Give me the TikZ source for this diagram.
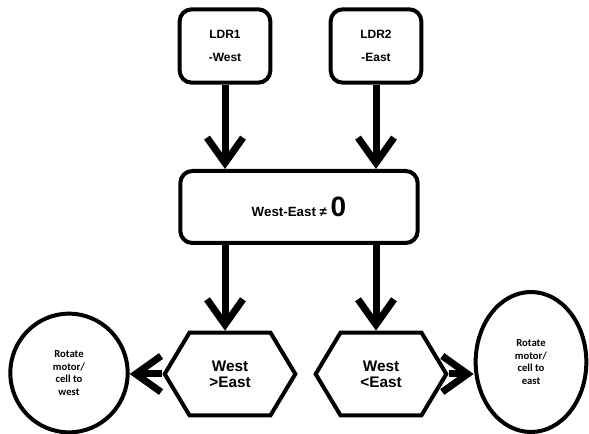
\documentclass[tikz,border=0pt]{standalone}
\usepackage{fontspec}
\setmainfont{Liberation Sans}
\newfontfamily\calfont{Carlito}
\usetikzlibrary{arrows.meta,positioning,shapes.geometric,shapes.symbols}
\tikzset{>={Straight Barb[length=19pt,width=27pt]}}

\begin{document}
\begin{tikzpicture}[x=0.75pt,y=-0.75pt,line width=3pt,font=\bfseries,
  box/.style={draw,rounded corners=9pt,align=center},
  hexbox/.style={draw,signal,signal to=east and west,signal pointer angle=118,
    minimum width=98pt,minimum height=62pt,inner sep=1pt,align=center,
    font=\bfseries\fontsize{11.5}{12}\selectfont},
  oval/.style={draw,ellipse,inner sep=0pt,align=center,font=\calfont\bfseries\footnotesize},
  flow/.style={->,line width=5.25pt}]
		\useasboundingbox (0,0) rectangle (589,434);
		
		\node[box,minimum width=68pt,minimum height=55pt] (ldrwest) at (225,46) {\small LDR1\\[5pt]\small -West};
		\node[box,minimum width=68pt,minimum height=55pt] (ldreast) at (376,46) {\small LDR2\\[5pt]\small -East};
		
		\node[box,minimum width=178pt,minimum height=54pt] (diff) at (299,207) {West-East ≠ {\fontsize{21}{21}\selectfont 0}};
		
		\node[hexbox] (hexwest) at (230,374) {West\\ >East};
		\node[hexbox] (hexeast) at (381,374) {West\\ <East};
		
		\node[oval,minimum width=88pt,minimum height=89pt] (rotwest) at (69,373) {Rotate\\motor/\\cell to\\west};
		\node[oval,minimum width=83pt,minimum height=105pt] (roteast) at (531,362) {Rotate\\motor/\\cell to\\east};
		
		\draw[flow] (ldrwest.south) -- (ldrwest.south |- diff.north);
		\draw[flow] (ldreast.south) -- (ldreast.south |- diff.north);
		
		\draw[flow] (diff.south -| ldrwest) -- (hexwest.north -| ldrwest);
		\draw[flow] (diff.south -| ldreast) -- (hexeast.north -| ldreast);
		
		\draw[flow] (hexwest.west) -- (rotwest.east |- hexwest.west);
		\draw[flow] (hexeast.east) -- (roteast.west |- hexeast.east);
	\end{tikzpicture}
\end{document}
